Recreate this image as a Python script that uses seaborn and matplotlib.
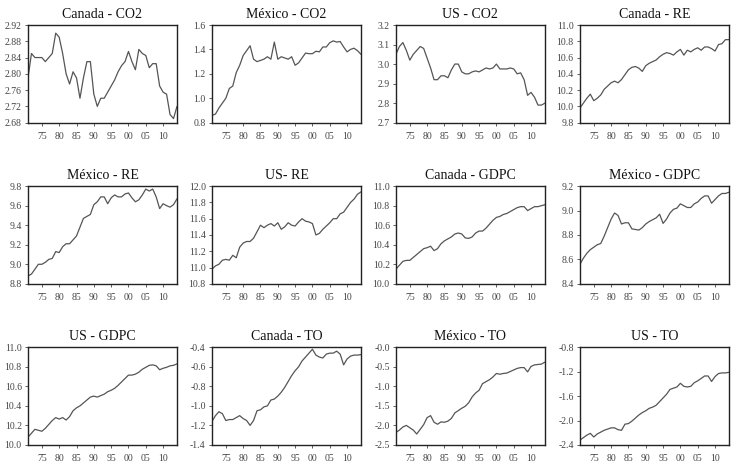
import numpy as np
import pandas as pd
import matplotlib
matplotlib.use("Agg")
import matplotlib.pyplot as plt
import seaborn as sns

# Years covered by every series.
years = list(range(1971, 2015))

canada_co2 = [2.79, 2.85, 2.84, 2.84, 2.84, 2.83, 2.84, 2.85, 2.90, 2.89,
              2.85, 2.80, 2.775, 2.805, 2.79, 2.74, 2.79, 2.83, 2.83, 2.75,
              2.72, 2.74, 2.74, 2.755, 2.77, 2.785, 2.805, 2.82, 2.83, 2.855,
              2.83, 2.81, 2.86, 2.85, 2.845, 2.815, 2.825, 2.825, 2.77, 2.755,
              2.75, 2.70, 2.69, 2.72]
mexico_co2 = [0.86, 0.87, 0.92, 0.96, 1.00, 1.08, 1.10, 1.21, 1.27, 1.35,
              1.39, 1.43, 1.32, 1.30, 1.31, 1.32, 1.34, 1.32, 1.46, 1.32,
              1.34, 1.33, 1.32, 1.34, 1.27, 1.29, 1.33, 1.37, 1.365, 1.365,
              1.385, 1.38, 1.42, 1.42, 1.455, 1.47, 1.46, 1.465, 1.42, 1.38,
              1.40, 1.41, 1.39, 1.36]
us_co2 = [3.05, 3.09, 3.11, 3.07, 3.02, 3.05, 3.07, 3.09, 3.08, 3.03,
          2.98, 2.92, 2.92, 2.94, 2.94, 2.93, 2.97, 3.00, 3.00, 2.96,
          2.95, 2.95, 2.96, 2.965, 2.96, 2.97, 2.98, 2.975, 2.98, 3.00,
          2.975, 2.975, 2.975, 2.98, 2.975, 2.95, 2.955, 2.92, 2.84, 2.855,
          2.83, 2.79, 2.79, 2.80]
canada_re = [9.98, 10.04, 10.10, 10.15, 10.07, 10.10, 10.14, 10.21, 10.25, 10.29,
             10.31, 10.29, 10.33, 10.39, 10.45, 10.48, 10.49, 10.47, 10.43, 10.50,
             10.53, 10.55, 10.57, 10.61, 10.64, 10.66, 10.65, 10.63, 10.67, 10.70,
             10.63, 10.69, 10.67, 10.70, 10.72, 10.69, 10.73, 10.73, 10.71, 10.68,
             10.76, 10.77, 10.82, 10.82]
mexico_re = [8.88, 8.90, 8.95, 9.00, 9.00, 9.02, 9.05, 9.06, 9.13, 9.12,
             9.18, 9.21, 9.21, 9.25, 9.29, 9.38, 9.47, 9.49, 9.51, 9.61,
             9.64, 9.69, 9.69, 9.62, 9.68, 9.71, 9.69, 9.69, 9.72, 9.73,
             9.68, 9.64, 9.66, 9.71, 9.77, 9.75, 9.77, 9.69, 9.57, 9.62,
             9.60, 9.585, 9.61, 9.67]
us_re = [10.98, 11.02, 11.04, 11.09, 11.10, 11.09, 11.15, 11.12, 11.25, 11.30,
         11.32, 11.32, 11.36, 11.44, 11.52, 11.49, 11.52, 11.54, 11.51, 11.55,
         11.47, 11.50, 11.55, 11.52, 11.51, 11.56, 11.60, 11.57, 11.56, 11.54,
         11.40, 11.42, 11.47, 11.51, 11.55, 11.60, 11.60, 11.66, 11.68, 11.74,
         11.80, 11.84, 11.90, 11.93]
canada_gdpc = [10.15, 10.19, 10.23, 10.24, 10.24, 10.27, 10.30, 10.33, 10.36, 10.37,
               10.385, 10.34, 10.36, 10.41, 10.44, 10.46, 10.48, 10.51, 10.52, 10.51,
               10.47, 10.465, 10.48, 10.52, 10.54, 10.54, 10.57, 10.61, 10.65, 10.68,
               10.69, 10.71, 10.72, 10.74, 10.76, 10.78, 10.79, 10.79, 10.75, 10.77,
               10.79, 10.79, 10.80, 10.81]
mexico_gdpc = [8.56, 8.61, 8.65, 8.68, 8.70, 8.72, 8.73, 8.79, 8.86, 8.93,
               8.98, 8.96, 8.89, 8.90, 8.90, 8.85, 8.845, 8.84, 8.86, 8.89,
               8.91, 8.925, 8.94, 8.97, 8.895, 8.93, 8.98, 9.01, 9.02, 9.055,
               9.04, 9.025, 9.025, 9.055, 9.07, 9.10, 9.12, 9.12, 9.06, 9.09,
               9.12, 9.14, 9.14, 9.15]
us_gdpc = [10.08, 10.12, 10.16, 10.15, 10.14, 10.17, 10.21, 10.25, 10.28, 10.265,
           10.28, 10.255, 10.29, 10.35, 10.38, 10.40, 10.43, 10.46, 10.49, 10.50,
           10.49, 10.505, 10.52, 10.545, 10.56, 10.58, 10.61, 10.645, 10.68, 10.715,
           10.715, 10.725, 10.745, 10.775, 10.795, 10.815, 10.82, 10.81, 10.77, 10.785,
           10.795, 10.81, 10.815, 10.83]
canada_to = [-1.16, -1.10, -1.06, -1.08, -1.15, -1.14, -1.14, -1.12, -1.10, -1.13,
             -1.15, -1.20, -1.15, -1.05, -1.04, -1.01, -1.00, -0.94, -0.93, -0.90,
             -0.86, -0.81, -0.75, -0.69, -0.64, -0.60, -0.54, -0.50, -0.46, -0.42,
             -0.48, -0.50, -0.51, -0.47, -0.46, -0.46, -0.44, -0.47, -0.58, -0.52,
             -0.49, -0.48, -0.48, -0.475]
mexico_to = [-2.18, -2.12, -2.04, -2.00, -2.06, -2.12, -2.22, -2.10, -1.98, -1.80,
             -1.75, -1.92, -1.97, -1.91, -1.92, -1.89, -1.82, -1.68, -1.62, -1.56,
             -1.51, -1.42, -1.27, -1.17, -1.10, -0.93, -0.88, -0.83, -0.76, -0.67,
             -0.69, -0.67, -0.66, -0.62, -0.58, -0.54, -0.52, -0.52, -0.63, -0.49,
             -0.45, -0.44, -0.43, -0.38]
us_to = [-2.32, -2.28, -2.24, -2.21, -2.27, -2.22, -2.19, -2.16, -2.14, -2.12,
         -2.12, -2.15, -2.16, -2.06, -2.05, -2.01, -1.96, -1.91, -1.87, -1.84,
         -1.80, -1.78, -1.75, -1.69, -1.63, -1.57, -1.49, -1.47, -1.45, -1.39,
         -1.44, -1.45, -1.44, -1.38, -1.35, -1.31, -1.27, -1.27, -1.36, -1.28,
         -1.23, -1.22, -1.22, -1.21]

titles = ["Canada - CO2", "México - CO2", "US - CO2", "Canada - RE",
          "México - RE", "US- RE", "Canada - GDPC", "México - GDPC",
          "US - GDPC", "Canada - TO", "México - TO", "US - TO"]
series = [canada_co2, mexico_co2, us_co2, canada_re,
          mexico_re, us_re, canada_gdpc, mexico_gdpc,
          us_gdpc, canada_to, mexico_to, us_to]

# y tick values and labels for each panel
y_ticks = [
    [2.68, 2.72, 2.76, 2.80, 2.84, 2.88, 2.92],
    [0.8, 1.0, 1.2, 1.4, 1.6],
    [2.7, 2.8, 2.9, 3.0, 3.1, 3.2],
    [9.8, 10.0, 10.2, 10.4, 10.6, 10.8, 11.0],
    [8.8, 9.0, 9.2, 9.4, 9.6, 9.8],
    [10.8, 11.0, 11.2, 11.4, 11.6, 11.8, 12.0],
    [10.0, 10.2, 10.4, 10.6, 10.8, 11.0],
    [8.4, 8.6, 8.8, 9.0, 9.2],
    [10.0, 10.2, 10.4, 10.6, 10.8, 11.0],
    [-1.4, -1.2, -1.0, -0.8, -0.6, -0.4],
    [-2.5, -2.0, -1.5, -1.0, -0.5, -0.0],
    [-2.4, -2.0, -1.6, -1.2, -0.8],
]
y_labels = [
    ["2.68", "2.72", "2.76", "2.80", "2.84", "2.88", "2.92"],
    ["0.8", "1.0", "1.2", "1.4", "1.6"],
    ["2.7", "2.8", "2.9", "3.0", "3.1", "3.2"],
    ["9.8", "10.0", "10.2", "10.4", "10.6", "10.8", "11.0"],
    ["8.8", "9.0", "9.2", "9.4", "9.6", "9.8"],
    ["10.8", "11.0", "11.2", "11.4", "11.6", "11.8", "12.0"],
    ["10.0", "10.2", "10.4", "10.6", "10.8", "11.0"],
    ["8.4", "8.6", "8.8", "9.0", "9.2"],
    ["10.0", "10.2", "10.4", "10.6", "10.8", "11.0"],
    ["-1.4", "-1.2", "-1.0", "-0.8", "-0.6", "-0.4"],
    ["-2.5", "-2.0", "-1.5", "-1.0", "-0.5", "-0.0"],
    ["-2.4", "-2.0", "-1.6", "-1.2", "-0.8"],
]
x_ticks = [1975, 1980, 1985, 1990, 1995, 2000, 2005, 2010]
x_labels = ["75", "80", "85", "90", "95", "00", "05", "10"]

sns.set_theme(style="white")
plt.rcParams["font.family"] = ["Liberation Serif", "DejaVu Serif"]

fig, axes = plt.subplots(3, 4, figsize=(7.37, 4.63), dpi=100)
fig.subplots_adjust(left=0.038, right=0.989, top=0.946, bottom=0.039,
                    wspace=0.235, hspace=0.65)

for ax, title, values, yt, yl in zip(axes.flat, titles, series, y_ticks, y_labels):
    df = pd.DataFrame({"year": years, "value": values})
    sns.lineplot(data=df, x="year", y="value", ax=ax, color="#555555", linewidth=0.9)
    ax.set_xlim(1971, 2014)
    ax.set_ylim(yt[0], yt[-1])
    ax.set_xticks(x_ticks)
    ax.set_xticklabels(x_labels)
    ax.set_yticks(yt)
    ax.set_yticklabels(yl)
    ax.set_xlabel("")
    ax.set_ylabel("")
    ax.set_title(title, fontsize=10, pad=5, color="#111111")
    ax.tick_params(axis="both", labelsize=7, length=2.5, width=0.6,
                   direction="out", colors="#444444")
    ax.tick_params(axis="x", pad=4)
    ax.tick_params(axis="y", pad=2)
    ax.tick_params(bottom=True, left=True)
    for spine in ax.spines.values():
        spine.set_color("#222222")
        spine.set_linewidth(1.0)

fig.savefig("out.png", dpi=100)
